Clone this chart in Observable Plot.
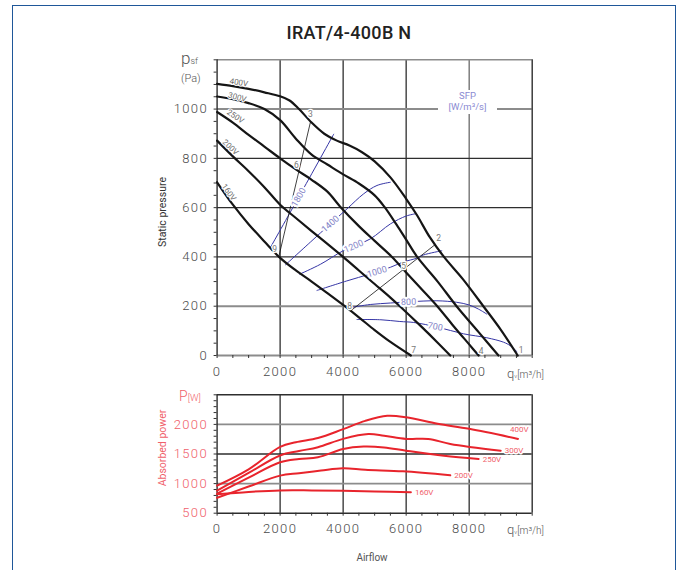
<!DOCTYPE html>
<html><head><meta charset="utf-8">
<script src="https://cdn.jsdelivr.net/npm/d3@7"></script>
<script src="https://cdn.jsdelivr.net/npm/@observablehq/plot@0.6"></script>
<style>
body{margin:0;background:#fff;font-family:Roboto,sans-serif;}
#wrap{position:relative;width:683px;height:570px;overflow:hidden;background:#fff;}
#border{position:absolute;left:12px;top:5px;width:662px;height:620px;border:1.5px solid #1f5799;}
.lbl{position:absolute;white-space:nowrap;color:#555;line-height:1;}
#c1,#c2{position:absolute;left:0;}
#c1{top:0}#c2{top:380px}
svg [aria-label="x-axis tick label"] text, svg [aria-label="y-axis tick label"] text{letter-spacing:1.4px;font-weight:300;}
.rot{transform:translate(-50%,-50%) rotate(-90deg);}
</style></head>
<body>
<div id="wrap">
  <div id="border"></div>
  <div id="c1"></div>
  <div id="c2"></div>
  <div class="lbl" style="left:0;width:698px;top:24px;text-align:center;font-size:18px;font-weight:500;color:#222;letter-spacing:0.3px">IRAT/4-400B N</div>
  <div class="lbl" style="left:181px;top:50px;font-size:17px;color:#555;font-weight:300">p<span style="font-size:9px">sf</span></div>
  <div class="lbl" style="left:181px;top:73px;font-size:11px;color:#555;font-weight:300">(Pa)</div>
  <div class="lbl rot" style="left:163px;top:212px;font-size:10.5px;color:#333">Static pressure</div>
  <div class="lbl" style="left:507px;top:367px;font-size:13px;color:#555;font-weight:300">q<span style="font-size:6px">v</span><span style="font-size:10px">[m³/h]</span></div>
  <div class="lbl" style="left:438px;top:90px;width:59px;height:24px;background:#fff;text-align:center;font-size:9.5px;color:#8a8ad2;line-height:11px">SFP<br>[W/m³/s]</div>
  <div class="lbl" style="left:179px;top:389px;font-size:14px;color:#f0606a;font-weight:300">P<span style="font-size:9.5px">[W]</span></div>
  <div class="lbl rot" style="left:163px;top:448px;font-size:10.5px;color:#f0606a">Absorbed power</div>
  <div class="lbl" style="left:507px;top:523px;font-size:13px;color:#555;font-weight:300">q<span style="font-size:6px">v</span><span style="font-size:10px">[m³/h]</span></div>
  <div class="lbl" style="left:372px;top:558px;transform:translate(-50%,-50%);font-size:10px;color:#555">Airflow</div>
</div>
<script>
// ---------- top chart: fan curves (q [m3/h], p [Pa]) ----------
const fan160 = [[0,703],[500,612],[1000,533],[1500,463],[2000,396],[2500,345],[3000,300],[3500,253],[4000,205],[4500,155],[5000,103],[5500,55],[6150,0]];
const fan200 = [[0,872],[500,808],[1000,748],[1500,683],[2000,612],[2500,558],[3000,505],[3500,453],[4000,400],[4500,345],[5000,290],[5500,235],[5800,200],[6500,115],[7000,52],[7400,0]];
const fan250 = [[0,988],[500,945],[1000,895],[1500,848],[2000,800],[2500,755],[3000,713],[3500,665],[3900,605],[4500,525],[5000,465],[5550,400],[6000,337],[6500,268],[7000,198],[7500,120],[8000,45],[8300,0]];
const fan300 = [[0,1051],[500,1040],[1000,1024],[1500,1000],[2000,955],[2500,880],[3000,815],[3500,775],[4000,735],[4500,698],[5000,650],[5300,605],[5700,530],[6000,470],[6350,400],[7000,300],[7600,200],[8300,95],[8930,0]];
const fan400 = [[0,1102],[500,1093],[1000,1082],[1500,1068],[2000,1052],[2300,1035],[2600,1000],[3000,945],[3400,900],[3800,872],[4200,852],[4600,825],[5000,788],[5500,723],[6000,636],[6350,568],[6750,480],[7200,400],[7800,310],[8450,200],[9000,105],[9540,0]];
const fanNames = ["160V","200V","250V","300V","400V"];

// SFP iso-lines [W/m3/s]
const sfp700  = [[4440,146],[5200,145],[5800,138],[6240,134],[7000,115],[7820,88],[8560,72],[9090,54],[9300,40],[9520,15]];
const sfp800  = [[4250,195],[4860,207],[5500,213],[6100,218],[6976,222],[7600,216],[8000,205],[8300,188],[8560,168]];
const sfp1000 = [[3170,264],[4100,302],[4860,331],[5500,358],[5920,380],[6340,395],[6550,408],[7130,425]];
const sfp1200 = [[2620,330],[3277,370],[4000,425],[4860,473],[5500,534],[6000,566],[6290,575]];
const sfp1400 = [[2170,368],[2960,460],[3594,534],[4122,595],[4650,656],[5074,690],[5496,703]];
const sfp1800 = [[1700,440],[2600,645],[3700,898]];
const sfpNames = ["700","800","1000","1200","1400","1800"];
const sfpLabelPos = [[6922,117],[6076,217],[5074,340],[4333,443],[3594,534],[2590,642]];

// system lines through operating points
const sysLine369 = [[1957,400],[2960,946]];
const sysLine258 = [[4225,180],[6920,450]];
const opPointNames = ["1","2","3","4","5","6","7","8","9"];
const opPointPos = [[9650,23],[7028,477],[2960,980],[8381,18],[5920,361],[2517,774],[6236,23],[4207,200],[1830,433]];
const fanLabelPos = [[371,662],[425,845],[583,970],[640,1048],[690,1108]];

// axes
const xTickLabels = [0,2000,4000,6000,8000];
const yTickLabels = [0,200,400,600,800,1000];

// ---------- bottom chart: absorbed power [W] ----------
const pw160 = [[0,820],[1000,860],[2000,885],[3000,885],[4000,880],[5000,868],[6150,855]];
const pw200 = [[0,760],[1000,950],[2000,1135],[2600,1175],[3300,1220],[4000,1258],[4700,1232],[5900,1207],[7400,1140]];
const pw250 = [[0,830],[1000,1100],[2000,1360],[2600,1415],[3200,1445],[4000,1585],[4650,1625],[5300,1610],[6000,1555],[7200,1470],[8300,1415]];
const pw300 = [[0,880],[1000,1180],[2000,1475],[2600,1550],[3200,1615],[4000,1755],[4800,1836],[5300,1808],[6000,1755],[6700,1755],[7400,1670],[9000,1555]];
const pw400 = [[0,965],[1000,1240],[2000,1620],[2500,1700],[3200,1770],[4000,1920],[4700,2060],[5400,2145],[6000,2120],[7000,2010],[8000,1925],[9550,1755]];
const powerTickLabels = [500,1000,1500,2000];

// ---------- build tables ----------
const fanSets = [fan160, fan200, fan250, fan300, fan400];
const fanRows = fanSets.flatMap((pts, i) => pts.map(([q, p]) => ({v: fanNames[i], q, p})));
const sfpSets = [sfp700, sfp800, sfp1000, sfp1200, sfp1400, sfp1800];
const sfpRows = sfpSets.flatMap((pts, i) => pts.map(([q, p]) => ({s: sfpNames[i], q, p})));
const sfpAngles = [10, -1, -17, -24, -42, -61];
const sfpLabels = sfpNames.map((s, i) => ({s, q: sfpLabelPos[i][0], p: sfpLabelPos[i][1], r: sfpAngles[i]}));
const sysRows = [sysLine369, sysLine258].flatMap((pts, i) => pts.map(([q, p]) => ({k: i, q, p})));
const opLabels = opPointNames.map((n, i) => ({n, q: opPointPos[i][0], p: opPointPos[i][1]}));
const fanAngles = [54, 43, 33, 16, 10];
const fanLabels = fanNames.map((v, i) => ({v, q: fanLabelPos[i][0], p: fanLabelPos[i][1], r: fanAngles[i]}));

const pwSets = [pw160, pw200, pw250, pw300, pw400];
const pwRows = pwSets.flatMap((pts, i) => pts.map(([q, w]) => ({v: fanNames[i], q, w})));
const pwEnds = pwSets.map((pts, i) => ({v: fanNames[i], q: pts[pts.length-1][0], w: pts[pts.length-1][1]}));

const range = (a, b, s) => d3.range(a, b + s/2, s);
const plain = d => String(d);
const grayLine = "#8c8c8c", darkLine = "#2e2e2e";

const topChart = Plot.plot({
  width: 683, height: 385,
  marginLeft: 216.6, marginRight: 151.3, marginTop: 59.3, marginBottom: 30,
  x: {domain: [0, 10000]},
  y: {domain: [0, 1200]},
  style: {fontFamily: "Roboto, sans-serif", background: "transparent", overflow: "visible"},
  marks: [
    Plot.ruleX([2000, 4000, 6000, 8000], {stroke: d => d === 8000 ? "#6a6a6a" : darkLine, strokeWidth: 1.3}),
    Plot.ruleY([200, 400, 600, 800, 1000], {stroke: d => (d === 200 || d === 1000) ? grayLine : darkLine, strokeWidth: d => (d === 200 || d === 1000) ? 2 : 1.3}),
    Plot.ruleY([1200], {stroke: grayLine, strokeWidth: 1.6}),
    Plot.ruleY([0], {stroke: grayLine, strokeWidth: 2}),
    Plot.ruleX([0, 10000], {stroke: darkLine, strokeWidth: 1.4}),
    Plot.axisY({ticks: range(0, 1200, 50), tickSize: 3, tickFormat: () => "", stroke: "#333", label: null}),
    Plot.axisY({ticks: yTickLabels, tickSize: 0, tickPadding: 9, fontSize: 13, fill: "#4a4a4a", tickFormat: plain, label: null}),
    Plot.axisX({ticks: range(0, 10000, 500), tickSize: 3, tickFormat: () => "", stroke: "#333", label: null}),
    Plot.axisX({ticks: xTickLabels, tickSize: 0, tickPadding: 11, fontSize: 13, fill: "#4a4a4a", tickFormat: plain, label: null}),
    Plot.line(sfpRows, {x: "q", y: "p", z: "s", stroke: "#3636a6", strokeWidth: 1, curve: "catmull-rom"}),
    Plot.line(sysRows, {x: "q", y: "p", z: "k", stroke: "#111", strokeWidth: 0.8}),
    Plot.line(fanRows, {x: "q", y: "p", z: "v", stroke: "#151515", strokeWidth: 2.2, curve: "catmull-rom"}),
    Plot.text(sfpLabels, {x: "q", y: "p", text: "s", rotate: "r", fill: "#8585c8", fontSize: 9, stroke: "white", strokeWidth: 4, paintOrder: "stroke"}),
    Plot.text(opLabels, {x: "q", y: "p", text: "n", fill: "#7a7a7a", fontSize: 8.5, stroke: "white", strokeWidth: 2.5, paintOrder: "stroke"}),
    Plot.text(fanLabels, {x: "q", y: "p", text: "v", rotate: "r", fill: "#6a6a6a", fontSize: 8, stroke: "white", strokeWidth: 2, paintOrder: "stroke"})
  ]
});
document.getElementById("c1").append(topChart);

const bottomChart = Plot.plot({
  width: 683, height: 160,
  marginLeft: 216.6, marginRight: 151.3, marginTop: 14.3, marginBottom: 27.3,
  x: {domain: [0, 10000]},
  y: {domain: [500, 2500]},
  style: {fontFamily: "Roboto, sans-serif", background: "transparent", overflow: "visible"},
  marks: [
    Plot.ruleX([2000, 4000, 6000, 8000], {stroke: darkLine, strokeWidth: 1.3}),
    Plot.ruleY([1000, 1500, 2000], {stroke: d => d === 1500 ? darkLine : grayLine, strokeWidth: d => d === 1500 ? 1.3 : 1.8}),
    Plot.ruleY([500, 2500], {stroke: darkLine, strokeWidth: 1.4}),
    Plot.ruleX([0, 10000], {stroke: darkLine, strokeWidth: 1.4}),
    Plot.axisY({ticks: range(500, 2500, 100), tickSize: 3, tickFormat: () => "", stroke: "#333", label: null}),
    Plot.axisY({ticks: powerTickLabels, tickSize: 0, tickPadding: 9, fontSize: 13, fill: "#f0606a", tickFormat: plain, label: null}),
    Plot.axisX({ticks: range(0, 10000, 500), tickSize: 3, tickFormat: () => "", stroke: "#333", label: null}),
    Plot.axisX({ticks: xTickLabels, tickSize: 0, tickPadding: 11, fontSize: 13, fill: "#4a4a4a", tickFormat: plain, label: null}),
    Plot.line(pwRows, {x: "q", y: "w", z: "v", stroke: "#e8242c", strokeWidth: 2, curve: "catmull-rom"}),
    Plot.text(pwEnds.filter(d => d.v !== "400V"), {x: "q", y: "w", text: "v", textAnchor: "start", dx: 4, fill: "#f0606a", fontSize: 8, stroke: "white", strokeWidth: 3, paintOrder: "stroke"}),
    Plot.text(pwEnds.filter(d => d.v === "400V"), {x: "q", y: "w", text: "v", textAnchor: "start", dx: -8, dy: -9, fill: "#f0606a", fontSize: 8, stroke: "white", strokeWidth: 3, paintOrder: "stroke"})
  ]
});
document.getElementById("c2").append(bottomChart);
</script>
</body></html>
